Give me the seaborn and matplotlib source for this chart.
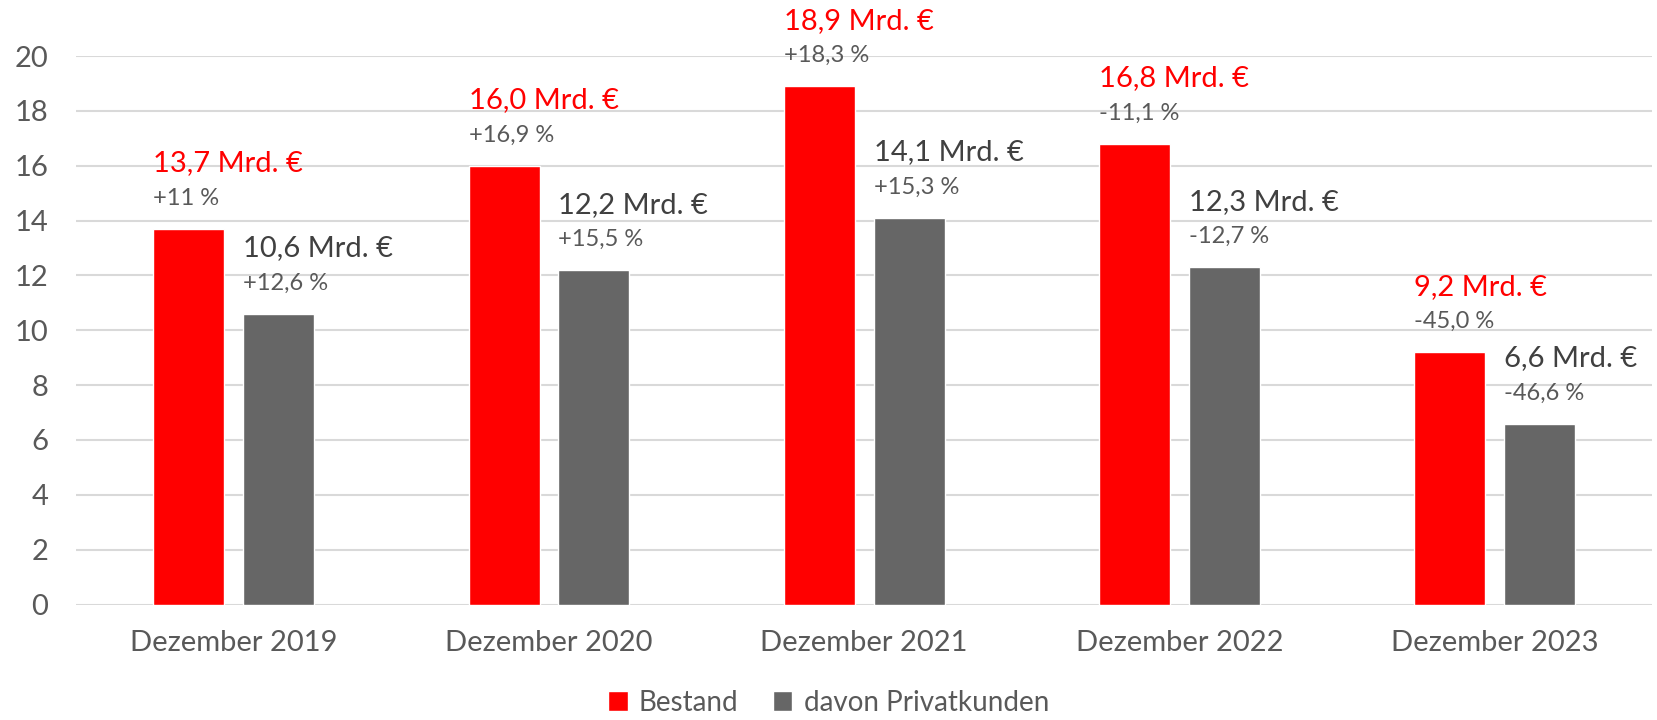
import pandas as pd
import matplotlib.pyplot as plt
import seaborn as sns

# ── Daten ────────────────────────────────────────────────
monate = ["Dezember 2019", "Dezember 2020", "Dezember 2021",
          "Dezember 2022", "Dezember 2023"]
bestand = [13.7, 16.0, 18.9, 16.8, 9.2]
privat = [10.6, 12.2, 14.1, 12.3, 6.6]
bestand_pct = ["+11 %", "+16,9 %", "+18,3 %", "-11,1 %", "-45,0 %"]
privat_pct = ["+12,6 %", "+15,5 %", "+15,3 %", "-12,7 %", "-46,6 %"]
serien = ["Bestand", "davon Privatkunden"]

RED = "#FF0000"
GRAY = "#666666"
TXT = "#595959"

df = pd.DataFrame({
    "Monat": monate * 2,
    "Serie": [serien[0]] * len(monate) + [serien[1]] * len(monate),
    "Wert": bestand + privat,
})

sns.set_theme(style="white")
plt.rcParams["font.family"] = ["Lato", "DejaVu Sans"]

fig = plt.figure(figsize=(16.57, 7.2), dpi=100)
ax = fig.add_axes([0.046, 0.1604, 0.951, 0.7618])

sns.barplot(data=df, x="Monat", y="Wert", hue="Serie", hue_order=serien,
            palette=[RED, GRAY], width=0.57, gap=0.21, saturation=1,
            ax=ax, legend=True)

ax.set_ylim(0, 20)
ax.set_yticks(range(0, 21, 2))
ax.yaxis.grid(True, color="#D9D9D9", linewidth=1.5)
ax.set_axisbelow(True)
for s in ax.spines.values():
    s.set_visible(False)
ax.set_xlabel("")
ax.set_ylabel("")
ax.tick_params(axis="both", length=0, labelsize=21, labelcolor=TXT)
ax.tick_params(axis="x", pad=18)
ax.tick_params(axis="y", pad=20)

# Beschriftungen über den Balken
labels = [(bestand, bestand_pct, RED), (privat, privat_pct, "#404040")]
for cont, (werte, pcts, col) in zip(ax.containers, labels):
    for bar, w, p in zip(cont, werte, pcts):
        x = bar.get_x()
        h = bar.get_height()
        ax.annotate(f"{w:.1f}".replace(".", ",") + " Mrd. €", (x, h),
                    xytext=(0, 47), textcoords="offset points",
                    ha="left", va="center", fontsize=21, color=col,
                    annotation_clip=False)
        ax.annotate(p, (x, h), xytext=(0, 22), textcoords="offset points",
                    ha="left", va="center", fontsize=17, color=TXT,
                    annotation_clip=False)

handles, lbls = ax.get_legend_handles_labels()
ax.get_legend().remove()
fig.legend(handles, lbls, loc="center", bbox_to_anchor=(0.5, 0.024),
           ncol=2, frameon=False, fontsize=20, labelcolor=TXT,
           handlelength=0.7, handleheight=0.7, handletextpad=0.4,
           columnspacing=1.25)

fig.savefig("out.png", dpi=100)
